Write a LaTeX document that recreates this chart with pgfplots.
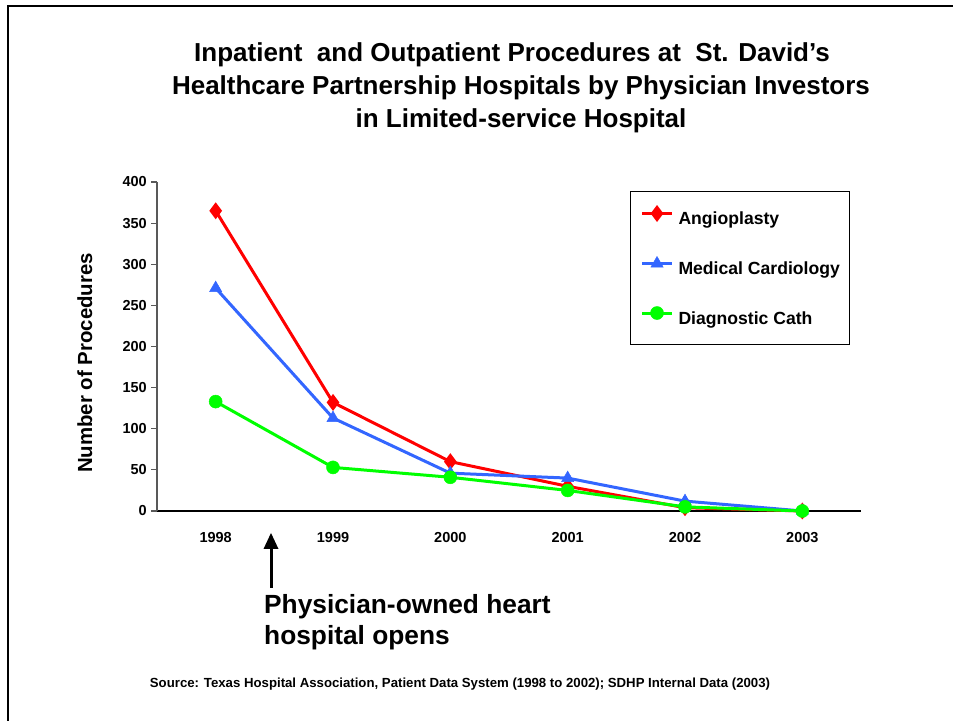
\documentclass[border=0pt]{standalone}
\usepackage{pgfplots}
\pgfplotsset{compat=1.18}
\usepackage{fontspec}
\setmainfont{Liberation Sans}
\definecolor{angio}{RGB}{255,0,0}
\definecolor{medcard}{RGB}{51,102,255}
\definecolor{diag}{RGB}{0,255,0}
\begin{document}
\begin{tikzpicture}[x=1bp,y=1bp]
\useasboundingbox (0,0) rectangle (953,721);
\draw[line width=2bp] (7.5,0) -- (7.5,714.5) -- (953,714.5);
% title
\node[anchor=base, inner sep=0pt, font=\fontsize{26bp}{30bp}\selectfont\bfseries] at (512,659) {Inpatient\ \ and Outpatient Procedures at\ \ St. David’s};
\node[anchor=base, inner sep=0pt, font=\fontsize{26bp}{30bp}\selectfont\bfseries] at (521,626) {Healthcare Partnership Hospitals by Physician Investors};
\node[anchor=base, inner sep=0pt, font=\fontsize{26bp}{30bp}\selectfont\bfseries] at (521,593) {in Limited-service Hospital};
\begin{axis}[
  at={(157bp,210bp)}, anchor=south west,
  width=704bp, height=329bp, scale only axis,
  xmin=-0.5, xmax=5.5, ymin=0, ymax=400,
  axis lines*=left,
  x axis line style={black, line width=1.2bp},
  y axis line style={gray!70!black, line width=1.2bp},
  ytick={0,50,...,400},
  xtick={0,1,2,3,4,5},
  xticklabels={\textbf{1998},\textbf{1999},\textbf{2000},\textbf{2001},\textbf{2002},\textbf{2003}},
  minor xtick={-0.5,0.5,1.5,2.5,3.5,4.5,5.5},
  xtick style={draw=none},
  minor tick length=7bp,
  major tick length=6bp,
  tick align=outside,
  ytick style={gray!70!black, line width=1.2bp},
  minor tick style={black, line width=1.2bp},
  /pgf/number format/assume math mode=true,
  yticklabel style={font=\fontsize{14.5bp}{17bp}\selectfont\bfseries, inner sep=0pt, anchor=east, xshift=-4bp},
  xticklabel style={font=\fontsize{14.5bp}{17bp}\selectfont\bfseries, inner sep=0pt, anchor=base, yshift=-26bp},
  clip=false,
  legend cell align=left,
  legend style={at={(0.6719,0.9726)}, anchor=north west, draw=black, line width=1bp, fill=white,
    inner xsep=10bp, inner ysep=16bp, row sep=28bp, column sep=5bp,
    nodes={inner sep=0pt, text height=13bp, text depth=4bp, font=\fontsize{17.6bp}{21bp}\selectfont\bfseries}},
  legend image code/.code={\draw[mark repeat=2, mark phase=2, #1] plot coordinates {(0bp,6.5bp) (15bp,6.5bp) (30bp,6.5bp)};},
]
\addplot[color=angio, line width=3bp, mark=diamond*, mark size=6bp, mark options={solid, fill=angio}] coordinates {(0,365) (1,132) (2,60) (3,30) (4,4) (5,0)};
\addlegendentry{Angioplasty}
\addplot[color=medcard, line width=3bp, mark=triangle*, mark size=7bp, mark options={solid, fill=medcard, line width=0.5bp}] coordinates {(0,271) (1,113) (2,46) (3,40) (4,12) (5,0)};
\addlegendentry{Medical Cardiology}
\addplot[color=diag, line width=3bp, mark=*, mark size=6.5bp, mark options={solid, fill=diag, line width=0.5bp}] coordinates {(0,133) (1,53) (2,41) (3,25) (4,5) (5,0)};
\addlegendentry{Diagnostic Cath}
\end{axis}
% y label
\node[rotate=90, anchor=base, inner sep=0pt, font=\fontsize{20.4bp}{24bp}\selectfont\bfseries] at (92,358) {Number of Procedures};
% arrow annotation
\draw[line width=3bp] (271,133) -- (271,175);
\fill (263.5,172) -- (271,188) -- (278.5,172) -- cycle;
\node[anchor=base west, inner sep=0pt, font=\fontsize{26.3bp}{30bp}\selectfont\bfseries] at (264,107) {Physician-owned heart};
\node[anchor=base west, inner sep=0pt, font=\fontsize{26.3bp}{30bp}\selectfont\bfseries] at (264,76) {hospital opens};
% source
\node[anchor=base, inner sep=0pt, font=\fontsize{13.2bp}{16bp}\selectfont\bfseries] at (460,33) {Source: Texas Hospital Association, Patient Data System (1998 to 2002); SDHP Internal Data (2003)};
\end{tikzpicture}
\end{document}
